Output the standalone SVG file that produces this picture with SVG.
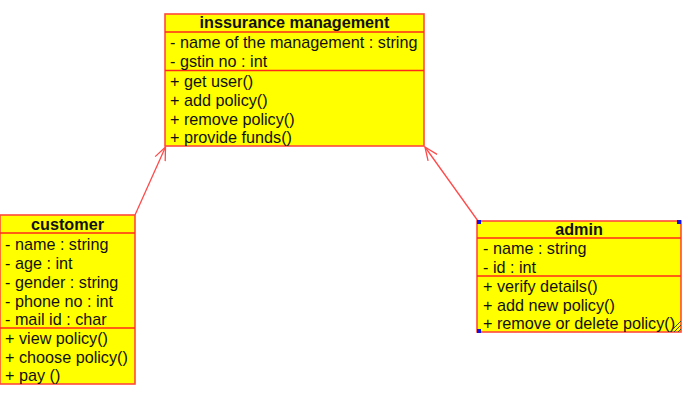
<svg xmlns="http://www.w3.org/2000/svg" width="688" height="418" viewBox="0 0 688 418">
<style>
.box{fill:#ffff00;stroke:#ff4a3a;stroke-width:1.6}
.sep{stroke:#ff2a1a;stroke-width:1.3}
.t{font-family:"Liberation Sans",Arial,sans-serif;font-size:16.2px;fill:#111}
.h{font-family:"Liberation Sans",Arial,sans-serif;font-size:16.2px;font-weight:bold;fill:#111;text-anchor:middle}
.conn{stroke:#ff4a4a;stroke-width:1.3;fill:none}
.handle{fill:#1010e0}
</style>
<defs>
<marker id="open" viewBox="-15 -8 17 16" refX="0" refY="0" markerWidth="17" markerHeight="16" markerUnits="userSpaceOnUse" orient="auto">
<path d="M-13,-5.5 L0,0 L-13,5.5" fill="none" stroke="#ff4a4a" stroke-width="1.3"/>
</marker>
</defs>
<g id="connectors">
<line class="conn" x1="135" y1="215" x2="165.5" y2="147" marker-end="url(#open)"/>
<line class="conn" x1="478" y1="221" x2="425" y2="147" marker-end="url(#open)"/>
</g>
<g id="insurance-management">
<rect class="box" x="165" y="14" width="259" height="132"/>
<line class="sep" x1="165" y1="32" x2="424" y2="32"/>
<line class="sep" x1="165" y1="70.5" x2="424" y2="70.5"/>
<text class="h" x="294.5" y="28">inssurance management</text>
<text class="t" x="170" y="48">- name of the management : string</text>
<text class="t" x="170" y="67">- gstin no : int</text>
<text class="t" x="170" y="87">+ get user()</text>
<text class="t" x="170" y="106">+ add policy()</text>
<text class="t" x="170" y="125">+ remove policy()</text>
<text class="t" x="170" y="143">+ provide funds()</text>
</g>
<g id="customer">
<rect class="box" x="0" y="215" width="135" height="169"/>
<line class="sep" x1="0" y1="233" x2="135" y2="233"/>
<line class="sep" x1="0" y1="328" x2="135" y2="328"/>
<text class="h" x="67.5" y="230">customer</text>
<text class="t" x="5" y="250">- name : string</text>
<text class="t" x="5" y="269">- age : int</text>
<text class="t" x="5" y="288">- gender : string</text>
<text class="t" x="5" y="307">- phone no : int</text>
<text class="t" x="5" y="325">- mail id : char</text>
<text class="t" x="5" y="344">+ view policy()</text>
<text class="t" x="5" y="363">+ choose policy()</text>
<text class="t" x="5" y="381">+ pay ()</text>
</g>
<g id="admin">
<rect class="box" x="477" y="221" width="204" height="111"/>
<line class="sep" x1="477" y1="238" x2="681" y2="238"/>
<line class="sep" x1="477" y1="276" x2="681" y2="276"/>
<text class="h" x="579" y="235">admin</text>
<text class="t" x="483" y="254">- name : string</text>
<text class="t" x="483" y="273">- id : int</text>
<text class="t" x="483" y="292">+ verify details()</text>
<text class="t" x="483" y="311">+ add new policy()</text>
<text class="t" x="483" y="329">+ remove or delete policy()</text>
<rect class="handle" x="477" y="220" width="4" height="4"/>
<rect class="handle" x="677" y="220" width="4" height="4"/>
<rect class="handle" x="477" y="329" width="4" height="4"/>
<g stroke="#444" stroke-width="1">
<line x1="670" y1="332" x2="681" y2="321"/>
<line x1="674" y1="332" x2="681" y2="325"/>
<line x1="678" y1="332" x2="681" y2="329"/>
</g>
</g>
</svg>
